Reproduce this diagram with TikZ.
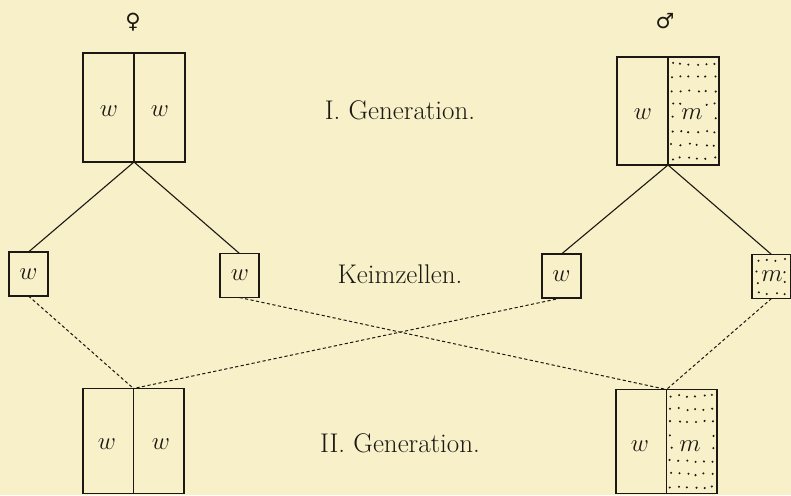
\documentclass[tikz,border=0pt]{standalone}
\usepackage{fontspec}
\newfontfamily\symfont{DejaVu Sans}
\definecolor{paper}{RGB}{247,240,200}
\definecolor{ink}{RGB}{28,24,20}
\newcommand{\stip}[8]{%
 \foreach \r in {1,...,#6}{
  \foreach \c in {1,...,#5}{
   \pgfmathsetmacro{\px}{#1+(\c-0.5)*(#3-#1)/#5+(rnd-0.5)*2.4}
   \pgfmathsetmacro{\py}{#2+(\r-0.5)*(#4-#2)/#6+(rnd-0.5)*2.4}
   \pgfmathtruncatemacro{\keep}{(abs(\px-(#1+#3)/2)<#7 && abs(\py-(#2+#4)/2)<#8) ? 0 : 1}
   \ifnum\keep=1 \fill[ink] (\px,\py) circle (1.15pt);\fi
  }}}
\begin{document}
\begin{tikzpicture}[x=1pt,y=-1pt,
 every node/.style={inner sep=0pt, outer sep=0pt},
 parent/.style={draw=ink, line width=1.9pt},
 gamete/.style={draw=ink, line width=1.5pt, minimum width=39pt, minimum height=44pt},
 lbl/.style={font=\fontsize{27}{30}\selectfont, text=ink},
 letter/.style={font=\fontsize{25}{25}\selectfont, text=ink},
 sex/.style={font=\symfont\fontsize{21}{21}\selectfont, text=ink},
 divider/.style={draw=ink, line width=1.2pt},
 solidline/.style={draw=ink, line width=1.1pt},
 dashline/.style={draw=ink, line width=1pt, dash pattern=on 3.2pt off 2.4pt}
]
\fill[paper] (0,0) rectangle (791,495);
\useasboundingbox (0,0) rectangle (791,495);
\pgfmathsetseed{7}

% parent boxes
\node[parent, minimum width=102pt, minimum height=109pt] (F1) at (134,107.5) {};
\node[parent, minimum width=102pt, minimum height=108pt] (M1) at (668,111) {};
\node[parent, minimum width=101pt, minimum height=105pt] (F2) at (133.5,441) {};
\node[parent, minimum width=101pt, minimum height=104pt] (M2) at (666.5,441.5) {};
\draw[divider] (F1.north) -- (F1.south);
\draw[divider] (M1.north) -- (M1.south);
\draw[divider] (F2.north) -- (F2.south);
\draw[divider] (M2.north) -- (M2.south);

% stipple
\stip{668}{57}{719}{165}{6}{8}{13}{8}
\stip{666.5}{389.5}{717}{493.5}{6}{8}{13}{8}

% gametes
\node[gamete] (g1) at (28.5,274) {};
\node[gamete] (g2) at (239.5,275.5) {};
\node[gamete] (g3) at (561.5,276) {};
\node[gamete] (g4) at (771.5,276.5) {};
\stip{753}{254.5}{790}{298.5}{4}{4}{10}{8}

% letters
\node[letter] (a1) at (109,111) {$w$};
\node[letter] (a2) at (160,111) {$w$};
\node[letter] (a3) at (643,114) {$w$};
\node[letter] (a4) at (692,114) {$m$};
\node[letter] (a5) at (107,444) {$w$};
\node[letter] (a6) at (161,444) {$w$};
\node[letter] (a7) at (640,446) {$w$};
\node[letter] (a8) at (690,446) {$m$};
\node[letter] (b1) at (28.5,274) {$w$};
\node[letter] (b2) at (240,275.5) {$w$};
\node[letter] (b3) at (561.5,276) {$w$};
\node[letter] (b4) at (772,276.5) {$m$};

% sex symbols
\node[sex] (fs) at (133,22) {♀};
\node[sex] (ms) at (665,21) {♂};

% labels
\node[lbl, anchor=base] (l1) at (400,119) {I. Generation.};
\node[lbl, anchor=base] (l2) at (400,283) {Keimzellen.};
\node[lbl, anchor=base] (l3) at (400,452) {II. Generation.};

% connectors
\draw[solidline] (F1.south) -- (g1.north);
\draw[solidline] (F1.south) -- (g2.north);
\draw[solidline] (M1.south) -- (g3.north);
\draw[solidline] (M1.south) -- (g4.north);
\draw[dashline] (g1.south) -- (F2.north);
\draw[dashline] (g3.south) -- (F2.north);
\draw[dashline] (g2.south) -- (M2.north);
\draw[dashline] (g4.south) -- (M2.north);
\end{tikzpicture}
\end{document}
